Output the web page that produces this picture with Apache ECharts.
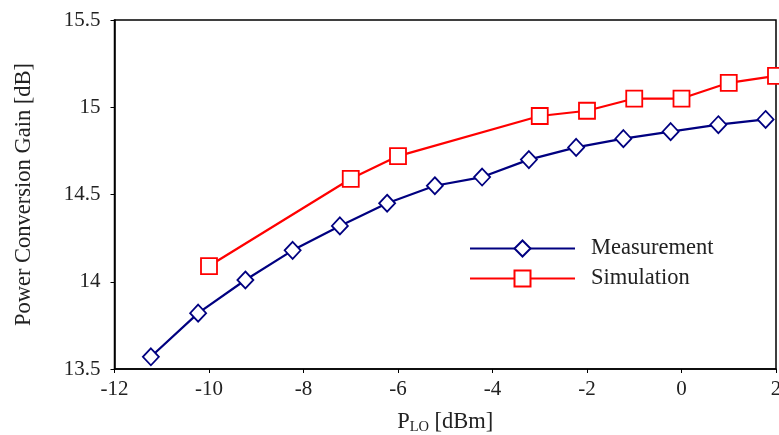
<!DOCTYPE html>
<html>
<head>
<meta charset="utf-8">
<script src="https://cdn.jsdelivr.net/npm/echarts@6/dist/echarts.min.js"></script>
<style>
  html, body { margin: 0; padding: 0; background: #fff; }
  #chart { width: 779px; height: 435px; }
</style>
</head>
<body>
<div id="chart"></div>
<script>
// 测量数据 (PLO, 增益)
var measX = [-11.23, -10.23, -9.23, -8.23, -7.23, -6.23, -5.22, -4.22, -3.23, -2.23, -1.23, -0.23, 0.78, 1.78];
var measY = [13.57, 13.82, 14.01, 14.18, 14.32, 14.45, 14.55, 14.60, 14.70, 14.77, 14.82, 14.86, 14.90, 14.93];
// 仿真数据
var simX = [-10, -7, -6, -3, -2, -1, 0, 1, 2];
var simY = [14.09, 14.59, 14.72, 14.95, 14.98, 15.05, 15.05, 15.14, 15.18];
var xTicks = [-12, -10, -8, -6, -4, -2, 0, 2];
var yTicks = [13.5, 14, 14.5, 15, 15.5];

function pairs(xs, ys) {
    var out = [];
    for (var i = 0; i < xs.length; i++) {
        out.push([xs[i], ys[i]]);
    }
    return out;
}

var font = 'Liberation Serif';

function drawGain() {
    var option = {
        backgroundColor: '#fff',
        animation: false,
        textStyle: { fontFamily: font },
        grid: {
            left: 114.5,
            right: 3,
            top: 20,
            bottom: 66,
            outerBoundsMode: 'none',
            show: true,
            borderColor: '#000',
            borderWidth: 1.5
        },
        legend: {
            orient: 'vertical',
            left: 464,
            top: 232,
            itemWidth: 105,
            itemHeight: 20,
            itemGap: 7,
            data: ['Measurement', 'Simulation'],
            textStyle: { fontFamily: font, fontSize: 22.5, color: '#222', padding: [0, 0, 0, 11] }
        },
        xAxis: {
            type: 'value',
            min: xTicks[0],
            max: xTicks[xTicks.length - 1],
            interval: 2,
            name: '{p|P}{s|LO}{p| [dBm]}',
            nameLocation: 'middle',
            nameGap: 40,
            nameTextStyle: {
                rich: {
                    p: { fontFamily: font, fontSize: 22.5, color: '#222', lineHeight: 26 },
                    s: { fontFamily: font, fontSize: 14.5, color: '#222', lineHeight: 15, verticalAlign: 'bottom' }
                }
            },
            axisLine: { onZero: false, lineStyle: { color: '#000', width: 1.5 } },
            axisTick: { show: true, length: 4, lineStyle: { color: '#000', width: 1 } },
            axisLabel: { fontFamily: font, fontSize: 21, color: '#222', margin: 10 },
            splitLine: { show: false }
        },
        yAxis: {
            type: 'value',
            min: yTicks[0],
            max: yTicks[yTicks.length - 1],
            interval: 0.5,
            name: 'Power Conversion Gain [dB]',
            nameLocation: 'middle',
            nameGap: 79,
            nameTextStyle: { fontFamily: font, fontSize: 22.5, color: '#222' },
            axisLine: { onZero: false, lineStyle: { color: '#000', width: 1.5 } },
            axisTick: { show: true, length: 4, lineStyle: { color: '#000', width: 1 } },
            axisLabel: { fontFamily: font, fontSize: 21, color: '#222', margin: 14 },
            splitLine: { show: false }
        },
        series: [
            {
                name: 'Measurement',
                type: 'line',
                data: pairs(measX, measY),
                symbol: 'diamond',
                symbolSize: [16, 17],
                lineStyle: { color: '#000080', width: 2.2 },
                itemStyle: { color: '#fff', borderColor: '#000080', borderWidth: 1.8 }
            },
            {
                name: 'Simulation',
                type: 'line',
                data: pairs(simX, simY),
                symbol: 'rect',
                symbolSize: 16,
                lineStyle: { color: '#ff0000', width: 2.2 },
                itemStyle: { color: '#fff', borderColor: '#ff0000', borderWidth: 1.8 }
            }
        ]
    };
    var myChart = echarts.init(document.getElementById('chart'));
    myChart.setOption(option);
}
drawGain();
</script>
</body>
</html>
